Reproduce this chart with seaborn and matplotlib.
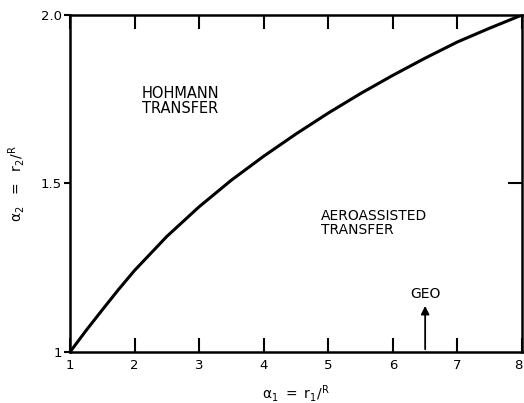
import matplotlib
matplotlib.use("Agg")
import matplotlib.pyplot as plt
import matplotlib.transforms as mtrans
import seaborn as sns
import pandas as pd

alpha1 = [1.0, 1.25, 1.5, 1.75, 2.0, 2.5, 3.0, 3.5, 4.0, 4.5, 5.0, 5.5, 6.0, 6.5, 7.0, 7.5, 8.0]
alpha2 = [1.0, 1.064, 1.125, 1.185, 1.242, 1.343, 1.431, 1.51, 1.581, 1.647, 1.709, 1.767,
          1.821, 1.872, 1.92, 1.961, 2.0]
xticks = [1, 2, 3, 4, 5, 6, 7, 8]
xticklabels = ["1", "2", "3", "4", "5", "6", "7", "8"]
yticks = [1.0, 1.5, 2.0]
yticklabels = ["1", "1.5", "2.0"]
geo_x = 6.5

sns.set_theme(style="white")
plt.rcParams['font.family'] = ['DejaVu Sans']

df = pd.DataFrame({"a1": alpha1, "a2": alpha2})
fig = plt.figure(figsize=(5.24, 4.03), dpi=100)
ax = fig.add_axes([0.1336, 0.1266, 0.8626, 0.8362])
sns.lineplot(data=df, x="a1", y="a2", ax=ax, color="black", linewidth=2.2)
ax.set_xlim(1, 8)
ax.set_ylim(1, 2)
for s in ax.spines.values():
    s.set_color("black")
    s.set_linewidth(1.8)
ax.set_xticks(xticks)
ax.set_xticklabels(xticklabels)
ax.set_yticks(yticks)
ax.set_yticklabels(yticklabels)
ax.tick_params(axis="x", direction="in", top=True, bottom=True, length=10, width=1.5,
               labelsize=9.5, pad=5, colors="black")
ax.tick_params(axis="y", direction="out", left=True, right=False, length=4, width=1.5,
               labelsize=9.5, pad=2, colors="black")
lab = ax.get_xticklabels()[-1]
lab.set_transform(lab.get_transform() + mtrans.ScaledTranslation(-4 / 100, 0, fig.dpi_scale_trans))

axr = ax.secondary_yaxis("right")
axr.set_yticks([1.5])
axr.set_yticklabels([])
axr.tick_params(direction="in", length=10, width=1.5, colors="black")
axr.spines["right"].set_visible(False)

ax.set_xlabel(r"$\mathregular{\alpha_1\ =\ r_1/^R}$", fontsize=10, color="black", labelpad=8)
ax.set_ylabel(r"$\mathregular{\alpha_2\ \ =\ \ r_2/^R}$", fontsize=10, color="black", labelpad=10)

ax.text(2.11, 1.744, "HOHMANN\nTRANSFER", fontsize=10.5, color="black", va="center",
        ha="left", linespacing=1.0)
ax.text(4.885, 1.382, "AEROASSISTED\nTRANSFER", fontsize=10, color="black", va="center",
        ha="left", linespacing=1.0)
ax.text(geo_x, 1.172, "GEO", fontsize=10, color="black", ha="center", va="center")
ax.annotate("", xy=(geo_x, 1.145), xytext=(geo_x, 1.0),
            arrowprops=dict(arrowstyle="-|>", color="black", lw=1.3, mutation_scale=12))

fig.savefig("out.png", dpi=100)
